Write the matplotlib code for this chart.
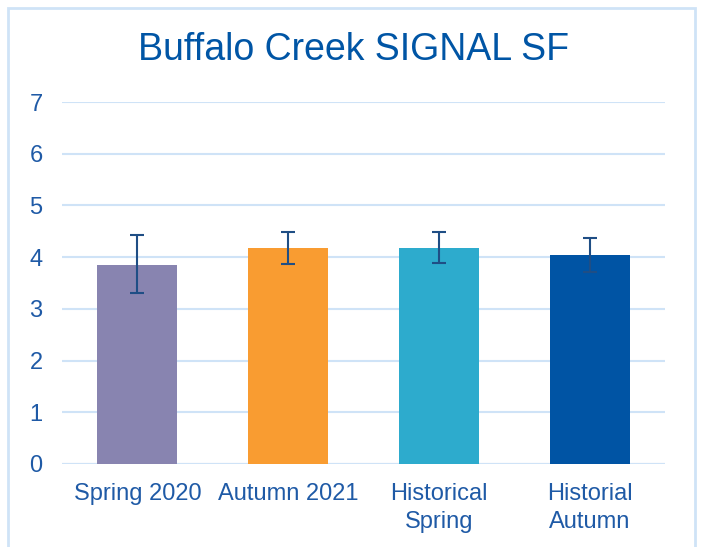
import matplotlib
matplotlib.use("Agg")
import matplotlib.pyplot as plt
from matplotlib.patches import Rectangle

categories = ["Spring 2020", "Autumn 2021", "Historical\nSpring", "Historial\nAutumn"]
values = [3.85, 4.18, 4.18, 4.04]
err_low = [3.30, 3.86, 3.88, 3.71]
err_high = [4.42, 4.49, 4.49, 4.37]
colors = ["#8884b0", "#f99c31", "#2dabcd", "#0054a4"]
yticks = [0, 1, 2, 3, 4, 5, 6, 7]

plt.rcParams['font.family'] = ['Liberation Sans', 'DejaVu Sans']
text_color = "#1f5aa6"

fig = plt.figure(figsize=(7.02, 5.47), dpi=100)
fig.patches.append(Rectangle((8/702, -0.01), (695-8)/702, (547-8)/547 + 0.01,
                             transform=fig.transFigure, fill=False,
                             edgecolor="#cfe3f7", linewidth=2))
ax = fig.add_axes([62/702, (547-464)/547, 603/702, 362/547])

x = list(range(len(categories)))
yerr = [[v - l for v, l in zip(values, err_low)], [h - v for v, h in zip(values, err_high)]]
ax.bar(x, values, width=0.53, color=colors, zorder=2)
ax.errorbar(x, values, yerr=yerr, fmt='none', ecolor="#1f4e85", elinewidth=1.5,
            capsize=5, capthick=1.5, zorder=3)

ax.set_xlim(-0.5, len(categories) - 0.5)
ax.set_ylim(0, 7)
ax.set_yticks(yticks)
ax.set_xticks(x)
ax.set_xticklabels(categories, fontsize=17, color=text_color, linespacing=1.3)
ax.tick_params(axis='y', labelsize=17, labelcolor=text_color, length=0, pad=14)
ax.tick_params(axis='x', length=0, pad=14)
ax.grid(axis='y', color="#cfe3f7", linewidth=1.5, zorder=0)
for s in ax.spines.values():
    s.set_visible(False)
ax.axhline(0, color="#cfe3f7", linewidth=1.5, zorder=1)

fig.text(354/702, 1 - 50/547, "Buffalo Creek SIGNAL SF", ha='center', va='center',
         fontsize=27, color="#0055a5")

fig.savefig("out.png", dpi=100)
